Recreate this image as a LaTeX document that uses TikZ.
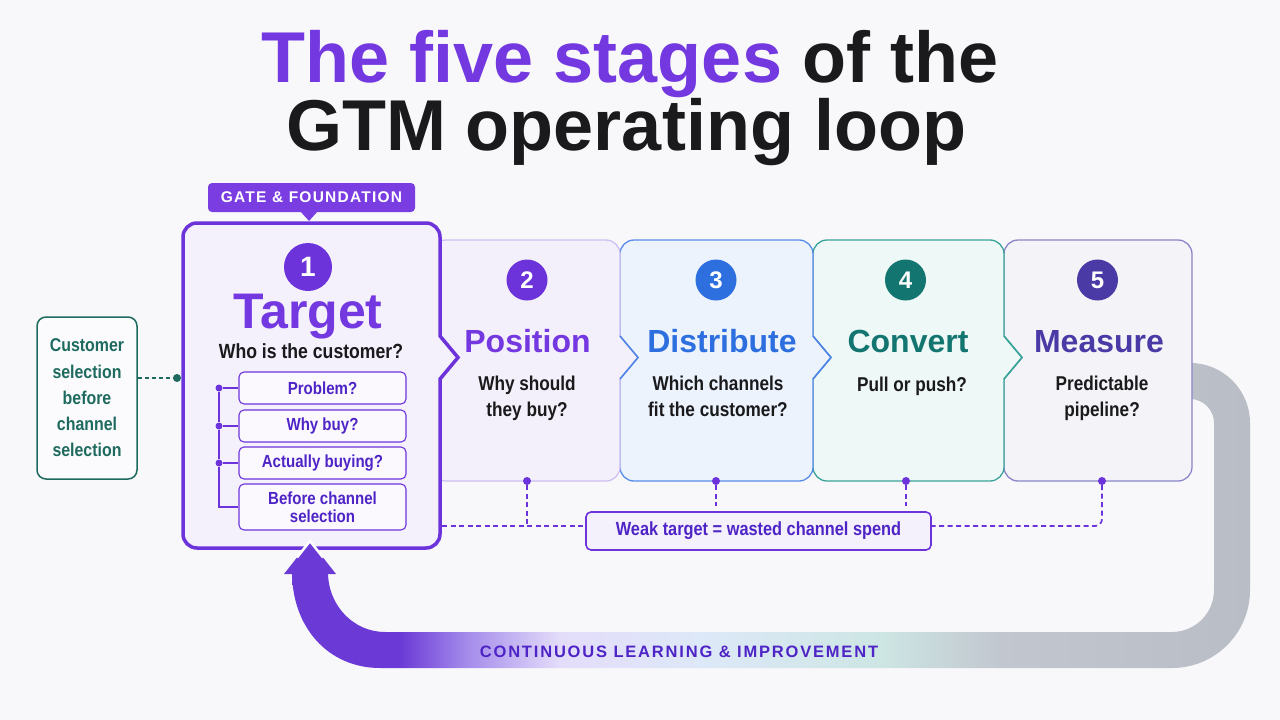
\documentclass[tikz,border=0pt]{standalone}
\usepackage{fontspec}
\setmainfont{Liberation Sans}
\newfontfamily\condf[FakeStretch=0.86]{Liberation Sans}
\usetikzlibrary{calc}
\definecolor{bgc}{HTML}{F8F8FB}
\definecolor{ink}{HTML}{1A1A1C}
\definecolor{pur}{HTML}{6C33DA}
\definecolor{purt}{HTML}{7438E0}
\definecolor{purd}{HTML}{4E24C6}
\definecolor{tabc}{HTML}{7A3DE2}
\definecolor{blu}{HTML}{2E6FE0}
\definecolor{tea}{HTML}{137570}
\definecolor{teab}{HTML}{3AA39A}
\definecolor{ind}{HTML}{4A3AA6}
\definecolor{indb}{HTML}{8B85C9}
\definecolor{tealbox}{HTML}{1E6A5F}
\definecolor{f1}{HTML}{F4F0FC}
\definecolor{f2}{HTML}{F4F0FB}
\definecolor{b2}{HTML}{CDBFEF}
\definecolor{f3}{HTML}{ECF3FD}
\definecolor{f4}{HTML}{EEF8F6}
\definecolor{f5}{HTML}{F4F4F8}
\definecolor{lpA}{HTML}{6B3AD6}
\definecolor{lpB}{HTML}{A58DEB}
\definecolor{lpC}{HTML}{E4DDFA}
\definecolor{lpD}{HTML}{DDE8F8}
\definecolor{lpE}{HTML}{CDE6E4}
\definecolor{lpF}{HTML}{C2C7CF}
\definecolor{lpG}{HTML}{B8BDC6}
\pgfdeclarehorizontalshading{loopgrad}{100bp}{color(0bp)=(lpA); color(25bp)=(lpA); color(30.6bp)=(lpA); color(34.2bp)=(lpB); color(39bp)=(lpC); color(46.3bp)=(lpD); color(55.7bp)=(lpE); color(61.9bp)=(lpF); color(75bp)=(lpG); color(100bp)=(lpG)}
\tikzset{
  chevshape/.style n args={4}{insert path={({#1+14},#2) -- ({#3-14},#2) arc[start angle=-90,end angle=0,radius=14] -- (#3,336) -- ({#3+18},357.5) -- (#3,379) -- (#3,{#4-14}) arc[start angle=0,end angle=90,radius=14] -- ({#1+14},#4) arc[start angle=90,end angle=180,radius=14] -- (#1,{#2+14}) arc[start angle=180,end angle=270,radius=14] -- cycle}},
  numc/.style={circle, minimum size=41, inner sep=0, text=white, font={\bfseries\fontsize{24}{24}\selectfont}},
  stitle/.style={anchor=base, font={\bfseries\fontsize{32}{32}\selectfont}},
  subq/.style={align=center, text=ink, font={\condf\bfseries\fontsize{20}{26}\selectfont}},
  subbox/.style={draw=pur, fill=white!60!f1, line width=1.1, rounded corners=5, minimum width=167, text=purd, font={\condf\bfseries\fontsize{17.5}{18.5}\selectfont}, align=center, inner sep=0},
  pdot/.style={circle, fill=pur, inner sep=0, minimum size=8},
  dsh/.style={draw=pur, line width=1.7, dash pattern=on 5pt off 3.5pt},
}
\begin{document}
\begin{tikzpicture}[x=1pt,y=-1pt]
\useasboundingbox (0,0) rectangle (1280,720);
\fill[bgc] (0,0) rectangle (1280,720);

% title
\node[anchor=base, font={\bfseries\fontsize{72}{72}\selectfont}] (t1) at (630,82) {\textcolor{purt}{The five stages} \textcolor{ink}{of the}};
\node[anchor=base, font={\bfseries\fontsize{72}{72}\selectfont}, text=ink] (t2) at (626,150) {GTM operating loop};

% loop band
\shade[shading=loopgrad] (1180,363) -- (1190,363) arc[start angle=-90,end angle=0,radius=60] -- (1250,590) arc[start angle=0,end angle=90,radius=78] -- (380,668) .. controls (328,668) and (292,627) .. (292,572) -- (328,572) .. controls (328,606) and (354,632) .. (385,632) -- (1172,632) arc[start angle=90,end angle=0,radius=42] -- (1214,423) arc[start angle=0,end angle=-90,radius=24] -- (1180,399) -- cycle;
\node[font={\bfseries\fontsize{16.5}{16.5}\selectfont\addfontfeatures{LetterSpace=11}}, text=purd] (loopl) at (679,652) {CONTINUOUS LEARNING \& IMPROVEMENT};

% stage boxes 5..2
\draw[draw=indb, fill=f5, line width=1.3, rounded corners=14] (1004,240) rectangle (1192,481);
\path[draw=teab, fill=f4, line width=1.3, chevshape={813}{240}{1004}{481}];
\path[draw=blu!80, fill=f3, line width=1.3, chevshape={620}{240}{813}{481}];
\path[draw=b2, fill=f2, line width=1.3, chevshape={432}{240}{620}{481}];
\draw[blu!85, line width=1.6] (620,336) -- (638,357.5) -- (620,379);
\draw[blu!85, line width=1.6] (813,336) -- (831,357.5) -- (813,379);
\draw[teab, line width=1.6] (1004,336) -- (1022,357.5) -- (1004,379);

% box 1
\path[draw=pur, fill=f1, line width=3.5, chevshape={183}{223}{440}{548}];
\node[fill=tabc, rounded corners=4, minimum width=207, minimum height=29, inner sep=0, text=white, font={\bfseries\fontsize{15.5}{15.5}\selectfont\addfontfeatures{LetterSpace=8}}] (tab) at (311.5,197.5) {GATE \& FOUNDATION};
\fill[tabc] (300,211) -- (318,211) -- (309,221) -- cycle;

\node[numc, fill=pur, minimum size=48, font={\bfseries\fontsize{28}{28}\selectfont}] (c1) at (308,267) {1};
\node[anchor=base, text=purt, font={\bfseries\fontsize{50}{50}\selectfont}] (n1) at (308,328) {Target};
\node[anchor=base, text=ink, font={\condf\bfseries\fontsize{20.5}{20.5}\selectfont}] (q1) at (311,358) {Who is the customer?};

\node[subbox, minimum height=32] (sb1) at (322.5,388) {Problem?};
\node[subbox, minimum height=32] (sb2) at (322.5,426) {Why buy?};
\node[subbox, minimum height=32] (sb3) at (322.5,463) {Actually buying?};
\node[subbox, minimum height=46] (sb4) at (322.5,507) {Before channel\\selection};
\node[pdot, minimum size=7] (bd1) at (219,388) {};
\node[pdot, minimum size=7] (bd2) at (219,426) {};
\node[pdot, minimum size=7] (bd3) at (219,463) {};
\coordinate (bc) at (219,507);
\draw[pur, line width=1.1] (bd1) -- (sb1.west);
\draw[pur, line width=1.1] (bd2) -- (sb2.west);
\draw[pur, line width=1.1] (bd3) -- (sb3.west);
\draw[pur, line width=1.1] (bd1) -- (bd2) -- (bd3) -- (bc) -- (sb4.west);

% stages 2-5 content
\node[numc, fill=pur] (c2) at (527,280) {2};
\node[stitle, text=purt] (n2) at (527.5,352) {Position};
\node[subq] (q2) at (527,398.5) {Why should\\they buy?};

\node[numc, fill=blu] (c3) at (716,280) {3};
\node[stitle, text=blu] (n3) at (722,352) {Distribute};
\node[subq] (q3) at (718,396) {Which channels\\fit the customer?};

\node[numc, fill=tea] (c4) at (905.5,280) {4};
\node[stitle, text=tea] (n4) at (908,352) {Convert};
\node[subq, anchor=base] (q4) at (912,391) {Pull or push?};

\node[numc, fill=ind] (c5) at (1097.5,280) {5};
\node[stitle, text=ind] (n5) at (1099,352) {Measure};
\node[subq] (q5) at (1102,398.5) {Predictable\\pipeline?};

% weak target
\node[draw=pur, fill=f1, line width=1.6, rounded corners=5, minimum width=345, minimum height=38, inner sep=0, text=purd, font={\condf\bfseries\fontsize{19}{19}\selectfont}] (wk) at (758.5,531) {Weak target = wasted channel spend};
\coordinate (b1r) at (442,526);
\node[pdot] (d2) at (527,481) {};
\node[pdot] (d3) at (716,481) {};
\node[pdot] (d4) at (906,481) {};
\node[pdot] (d5) at (1102,481) {};
\draw[dsh] (b1r) -- (wk.west |- b1r);
\draw[dsh] (d2) -- (d2 |- b1r);
\draw[dsh, shorten >=5pt] (d3) -- (d3 |- wk.north);
\draw[dsh, shorten >=5pt] (d4) -- (d4 |- wk.north);
\draw[dsh, rounded corners=7] (d5) -- (d5 |- b1r) -- (wk.east |- b1r);

% customer selection box
\node[draw=tealbox, fill=white!50!bgc, line width=1.5, rounded corners=9, minimum width=100, minimum height=162, inner sep=0, align=center, text=tealbox, font={\condf\bfseries\fontsize{18.5}{26.3}\selectfont}] (tb) at (87,398) {Customer\\selection\\before\\channel\\selection};
\node[circle, fill=tealbox, inner sep=0, minimum size=8] (td) at (177,378) {};
\draw[tealbox, line width=1.5, dash pattern=on 4pt off 3pt] (tb.east |- td) -- (td);

% arrow head of loop
\fill[lpA] (284,574) -- (310,541) -- (336,574) -- cycle;
\draw[white, line width=2.5, line join=miter] (297,557.5) -- (310,541) -- (323,557.5);
\end{tikzpicture}
\end{document}
